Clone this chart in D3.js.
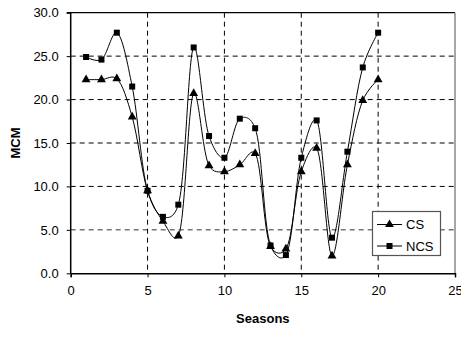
<!DOCTYPE html>
<html><head><meta charset="utf-8">
<script src="https://cdn.jsdelivr.net/npm/d3@7"></script>
<style>body{margin:0;background:#fff}svg{display:block;font-family:"Liberation Sans",Arial,sans-serif}</style>
</head><body><svg id="c" width="461" height="338"></svg>
<script>
const seasons = [1,2,3,4,5,6,7,8,9,10,11,12,13,14,15,16,17,18,19,20];
const csValues = [22.3,22.3,22.4,18.0,9.5,6.0,4.3,20.7,12.4,11.7,12.5,13.8,3.1,2.8,11.7,14.4,2.0,12.5,19.9,22.3];
const ncsValues = [24.9,24.6,27.7,21.5,9.5,6.5,7.9,26.0,15.8,13.3,17.8,16.7,3.2,2.1,13.3,17.6,4.1,14.0,23.7,27.7];
const xTicks = [0,5,10,15,20,25];
const yTicks = [0,5,10,15,20,25,30];
const seriesNames = ["CS","NCS"];

const svg = d3.select("#c");
const L = 70.7, R = 455, T = 12.7, B = 273.3;
const x = d3.scaleLinear().domain([0,25]).range([L,R]);
const y = d3.scaleLinear().domain([0,30]).range([B,T]);

// gridlines
const g = svg.append("g");
g.selectAll("line.h").data(yTicks.filter(v=>v>0&&v<30)).enter().append("line")
  .attr("x1",L).attr("x2",R).attr("y1",d=>y(d)).attr("y2",d=>y(d))
  .attr("stroke",d=>d===5?"#777":"#000").attr("stroke-width",d=>d===5?1.5:1).attr("stroke-dasharray","5,4");
g.selectAll("line.v").data(xTicks.filter(v=>v>0&&v<25)).enter().append("line")
  .attr("y1",T).attr("y2",B).attr("x1",d=>x(d)).attr("x2",d=>x(d))
  .attr("stroke","#000").attr("stroke-width",1).attr("stroke-dasharray","5,4");
// border top & right
svg.append("line").attr("x1",L).attr("x2",R).attr("y1",T).attr("y2",T).attr("stroke","#000").attr("stroke-width",1.2);
svg.append("line").attr("x1",R).attr("x2",R).attr("y1",T).attr("y2",B).attr("stroke","#888").attr("stroke-width",1.5);

// axes
const xAxis = d3.axisBottom(x).tickValues(xTicks).tickSize(4).tickPadding(8).tickFormat(d3.format("d"));
const yAxis = d3.axisLeft(y).tickValues(yTicks).tickSize(4).tickPadding(8).tickFormat(d3.format(".1f"));
const xa = svg.append("g").attr("transform",`translate(0,${B})`).call(xAxis);
const ya = svg.append("g").attr("transform",`translate(${L},0)`).call(yAxis);
[xa,ya].forEach(a=>{
  a.select(".domain").attr("stroke","#000").attr("stroke-width",1.5);
  a.selectAll(".tick line").attr("stroke","#000").attr("stroke-width",1);
  a.selectAll("text").attr("font-size",13).attr("fill","#000").attr("font-family","Liberation Sans, Arial, sans-serif");
});
ya.select(".domain").attr("d",`M-4,${T}H0V${B}`);

// labels
svg.append("text").attr("x",(L+R)/2).attr("y",323).attr("text-anchor","middle")
  .attr("font-size",13).attr("font-weight","bold").text("Seasons");
svg.append("text").attr("transform",`translate(20,${(T+B)/2}) rotate(-90)`).attr("text-anchor","middle")
  .attr("font-size",13).attr("font-weight","bold").text("MCM");

// lines
const line = d3.line().x((d,i)=>x(seasons[i])).y(d=>y(d)).curve(d3.curveCatmullRom.alpha(0.25));
[csValues, ncsValues].forEach(vals=>{
  svg.append("path").attr("d",line(vals)).attr("fill","none").attr("stroke","#000").attr("stroke-width",1);
});
const tri = d3.symbol().type(d3.symbolTriangle).size(34);
const sq = d3.symbol().type(d3.symbolSquare).size(36);
svg.append("g").selectAll("path").data(csValues).enter().append("path")
  .attr("d",tri).attr("transform",(d,i)=>`translate(${x(seasons[i])},${y(d)})`).attr("fill","#000");
svg.append("g").selectAll("path").data(ncsValues).enter().append("path")
  .attr("d",sq).attr("transform",(d,i)=>`translate(${x(seasons[i])},${y(d)})`).attr("fill","#000");

// legend
const lg = svg.append("g");
lg.append("rect").attr("x",372.5).attr("y",211.5).attr("width",68).attr("height",44)
  .attr("fill","#fff").attr("stroke","#555").attr("stroke-width",1.2);
const ly = [224.5,246];
seriesNames.forEach((n,i)=>{
  lg.append("line").attr("x1",377).attr("x2",402).attr("y1",ly[i]).attr("y2",ly[i]).attr("stroke","#000");
  lg.append("path").attr("d",i===0?tri:sq).attr("transform",`translate(389.5,${ly[i]})`).attr("fill","#000");
  lg.append("text").attr("x",406).attr("y",ly[i]+4.5).attr("font-size",13).text(n);
});
</script></body></html>
